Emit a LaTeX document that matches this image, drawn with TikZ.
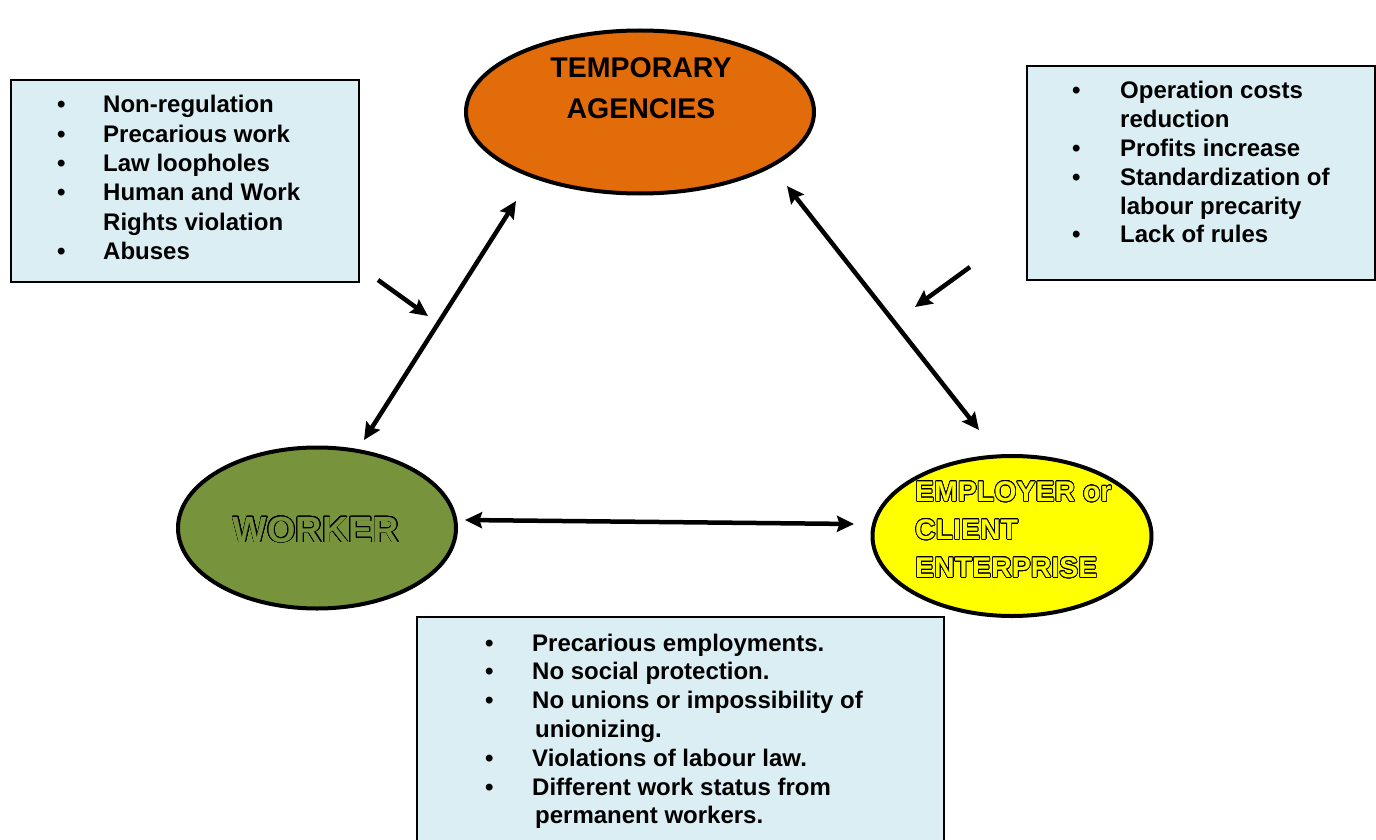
\documentclass[tikz,border=0pt]{standalone}
\usepackage{fontspec}
\setmainfont{Liberation Sans}
\usepackage{contour}
\contourlength{0.75pt}
\contournumber{24}
\usetikzlibrary{shapes.geometric,arrows.meta}
\definecolor{orangefill}{HTML}{E36C0A}
\definecolor{olivefill}{HTML}{77933C}
\definecolor{yellowfill}{HTML}{FFFF00}
\definecolor{boxfill}{HTML}{DBEEF3}
\tikzset{
  oval/.style={ellipse, draw=black, line width=4pt, inner sep=0pt},
  infobox/.style={draw=black, line width=2pt, fill=boxfill},
  boxtext/.style={inner sep=0pt, font=\bfseries\fontsize{24}{28.8}\selectfont, anchor=base west},
  link/.style={line width=4.5pt, {Stealth[length=17pt,width=16pt,inset=2.5pt]}-{Stealth[length=17pt,width=16pt,inset=2.5pt]}},
  pointer/.style={line width=4.5pt, -{Stealth[length=17pt,width=16pt,inset=2.5pt]}}
}
\newcommand{\bul}{\textbullet}
\newcommand{\outl}[2]{\contour{black}{\textcolor{#1}{#2}}}
\begin{document}
\begin{tikzpicture}[x=1pt,y=-1pt]
\useasboundingbox (0,0) rectangle (1376,840);
% ellipses
\node[oval, fill=orangefill, minimum width=348pt, minimum height=163pt] (temp) at (640,112) {};
\node[align=center, inner sep=0pt, font=\bfseries\fontsize{28.5}{41}\selectfont] (templabel) at (641,88) {TEMPORARY\\AGENCIES};
\node[oval, fill=olivefill, minimum width=278pt, minimum height=161pt] (worker) at (317,528) {};
\node[inner sep=0pt, font=\bfseries\fontsize{36.5}{40}\selectfont] (workerlabel) at (316,530) {\outl{olivefill}{WORKER}};
\node[oval, fill=yellowfill, minimum width=279pt, minimum height=160pt] (employer) at (1012,536) {};
\node[align=left, inner sep=0pt, anchor=west, font=\bfseries\fontsize{28.5}{38}\selectfont] (emplabel) at (915,530)
  {\outl{yellowfill}{EMPLOYER or}\\\outl{yellowfill}{CLIENT}\\\outl{yellowfill}{ENTERPRISE}};
% boxes
\node[infobox, anchor=north west, minimum width=348pt, minimum height=202pt, inner sep=0pt] (leftbox) at (10,79) {};
\node[boxtext, font=\bfseries\fontsize{24}{29.3}\selectfont] (lefttext) at (57,113) {\begin{tabular}[t]{@{}p{46pt}@{}l@{}}
\bul & Non-regulation\\
\bul & Precarious work\\
\bul & Law loopholes\\
\bul & Human and Work\\
 & Rights violation\\
\bul & Abuses
\end{tabular}};
\node[infobox, anchor=north west, minimum width=348pt, minimum height=214pt, inner sep=0pt] (rightbox) at (1026,65) {};
\node[boxtext] (righttext) at (1072,99) {\begin{tabular}[t]{@{}p{48pt}@{}l@{}}
\bul & Operation costs\\
 & reduction\\
\bul & Profits increase\\
\bul & Standardization of\\
 & labour precarity\\
\bul & Lack of rules
\end{tabular}};
\draw[line width=2pt, fill=boxfill] (417,860) -- (417,617) -- (944,617) -- (944,860);
\coordinate (botbox) at (680,617);
\node[boxtext] (bottext) at (485,651) {\begin{tabular}[t]{@{}p{47pt}@{}l@{}}
\bul & Precarious employments.\\
\bul & No social protection.\\
\bul & No unions or impossibility of\\
 & \hspace{3pt}unionizing.\\
\bul & Violations of labour law.\\
\bul & Different work status from\\
 & \hspace{3pt}permanent workers.
\end{tabular}};
% arrows
\coordinate (wt1) at (364,440);
\coordinate (wt2) at (516,201);
\coordinate (te1) at (787,186);
\coordinate (te2) at (979,430);
\coordinate (we1) at (465,520);
\coordinate (we2) at (854,524);
\coordinate (p1a) at (378,280);
\coordinate (p1b) at (428,316);
\coordinate (p2a) at (970,267);
\coordinate (p2b) at (915,307);
\draw[link] (wt1) -- (wt2);
\draw[link] (te1) -- (te2);
\draw[link] (we1) -- (we2);
\draw[pointer] (p1a) -- (p1b);
\draw[pointer] (p2a) -- (p2b);
\end{tikzpicture}
\end{document}
